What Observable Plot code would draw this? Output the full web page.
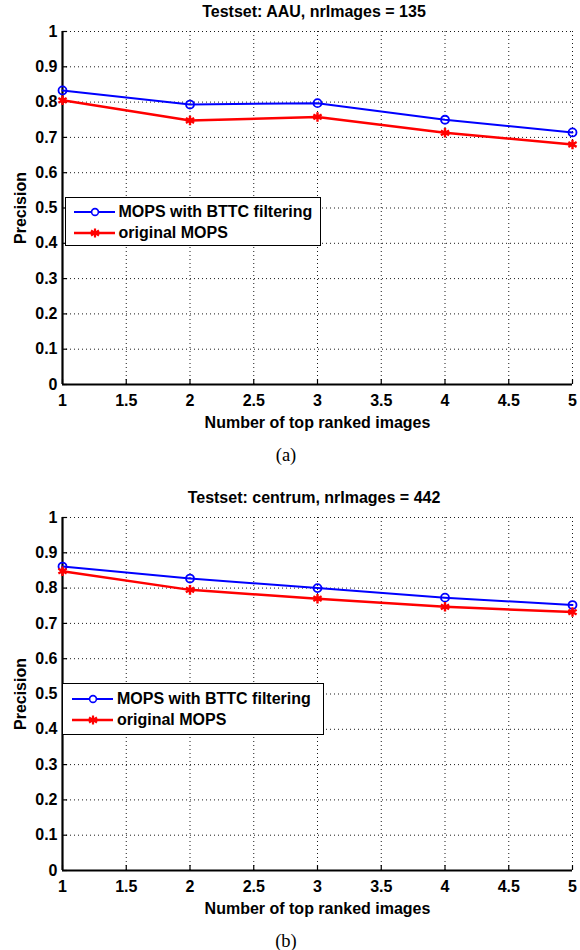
<!DOCTYPE html>
<html><head><meta charset="utf-8">
<script src="https://cdn.jsdelivr.net/npm/d3@7"></script>
<script src="https://cdn.jsdelivr.net/npm/@observablehq/plot@0.6"></script>
<style>
body{margin:0;background:#fff;width:580px;height:950px;position:relative;overflow:hidden;font-family:"Liberation Sans",Arial,sans-serif;}
.abs{position:absolute;}
.title{font-weight:bold;font-size:16px;line-height:16px;text-align:center;width:510px;left:59px;white-space:nowrap;}
.cap{font-family:"Liberation Serif","Times New Roman",serif;font-size:18.5px;line-height:18px;text-align:center;width:572px;left:0;}
.legend{background:#fff;border:1.5px solid #000;box-sizing:border-box;}
.row{display:flex;align-items:center;height:21px;font-weight:bold;font-size:16px;white-space:nowrap;}
.row svg{margin-right:4px;flex:none;}
</style>
</head><body>
<div id="root"></div>
<script>
const ranks = [1, 2, 3, 4, 5];
const xTicks = [1, 1.5, 2, 2.5, 3, 3.5, 4, 4.5, 5];
const yTicks = [0, 0.1, 0.2, 0.3, 0.4, 0.5, 0.6, 0.7, 0.8, 0.9, 1];
const xTickLabels = ["1", "1.5", "2", "2.5", "3", "3.5", "4", "4.5", "5"];
const yTickLabels = ["0", "0.1", "0.2", "0.3", "0.4", "0.5", "0.6", "0.7", "0.8", "0.9", "1"];
const seriesNames = ["MOPS with BTTC filtering", "original MOPS"];

const aauBttc = [0.833, 0.793, 0.797, 0.750, 0.714];
const aauOrig = [0.805, 0.748, 0.758, 0.713, 0.680];
const centrumBttc = [0.861, 0.827, 0.800, 0.773, 0.752];
const centrumOrig = [0.848, 0.795, 0.770, 0.747, 0.732];

const titles = ["Testset: AAU, nrImages = 135", "Testset: centrum, nrImages = 442"];
const captions = ["(a)", "(b)"];
const xLabel = "Number of top ranked images";
const yLabel = "Precision";

const BLUE = "#0000ff", RED = "#ff0000";
const root = document.getElementById("root");

function table(vals) { return ranks.map((k, i) => ({k, v: vals[i]})); }

function chart(top, bttc, orig, title, caption, lg) {
  const b = table(bttc), o = table(orig);
  const svg = Plot.plot({
    width: 580, height: 440,
    marginTop: 31, marginBottom: 56, marginLeft: 62, marginRight: 8,
    x: {domain: [1, 5]},
    y: {domain: [0, 1]},
    style: {fontFamily: "'Liberation Sans', Arial, sans-serif", fontWeight: "bold", fontSize: "16px", color: "#000", background: "transparent"},
    marks: [
      Plot.gridX(xTicks, {stroke: "#000", strokeOpacity: 0.9, strokeDasharray: "1,3", strokeWidth: 1}),
      Plot.gridY(yTicks, {stroke: "#000", strokeOpacity: 0.9, strokeDasharray: "1,3", strokeWidth: 1}),
      Plot.axisX(xTicks, {tickSize: 0, tickPadding: 10, tickFormat: (d, i) => xTickLabels[i], label: xLabel, labelAnchor: "center", labelArrow: "none", labelOffset: 43}),
      Plot.axisY(yTicks, {tickSize: 0, tickPadding: 5, tickFormat: (d, i) => yTickLabels[i], label: yLabel, labelAnchor: "center", labelArrow: "none", labelOffset: 48}),
      Plot.ruleX(xTicks, {y1: 0, y2: 0.014, stroke: "#000", strokeWidth: 1.2}),
      Plot.ruleY(yTicks, {x1: 1, x2: 1.04, stroke: "#000", strokeWidth: 1.2}),
      Plot.ruleY([0], {stroke: "#000", strokeWidth: 2.2}),
      Plot.ruleX([1], {stroke: "#000", strokeWidth: 2.2}),
      Plot.line(b, {x: "k", y: "v", stroke: BLUE, strokeWidth: 2}),
      Plot.line(o, {x: "k", y: "v", stroke: RED, strokeWidth: 2.5}),
      Plot.dot(b, {x: "k", y: "v", r: 4, stroke: BLUE, strokeWidth: 1.8, fill: "none"}),
      Plot.dot(o, {x: "k", y: "v", r: 4.5, symbol: "asterisk", stroke: RED, strokeWidth: 2.4})
    ]
  });
  svg.style.position = "absolute";
  svg.style.left = "0px";
  svg.style.top = top + "px";
  root.appendChild(svg);

  const t = document.createElement("div");
  t.className = "abs title"; t.style.top = (top + 4) + "px"; t.textContent = title;
  root.appendChild(t);

  const box = document.createElement("div");
  box.className = "abs legend";
  box.style.left = lg.left + "px"; box.style.top = lg.top + "px";
  box.style.width = lg.w + "px"; box.style.height = lg.h + "px";
  box.style.padding = lg.pad;
  const sym = [
    `<svg width="41" height="12"><line x1="0" y1="6" x2="41" y2="6" stroke="${BLUE}" stroke-width="2"/><circle cx="21" cy="6" r="3.4" fill="#fff" stroke="${BLUE}" stroke-width="1.6"/></svg>`,
    `<svg width="41" height="12"><line x1="0" y1="6" x2="41" y2="6" stroke="${RED}" stroke-width="2.5"/><g stroke="${RED}" stroke-width="2.2"><line x1="21" y1="1.5" x2="21" y2="10.5"/><line x1="17" y1="3.5" x2="25" y2="8.5"/><line x1="17" y1="8.5" x2="25" y2="3.5"/></g></svg>`
  ];
  box.innerHTML = seriesNames.map((n, i) => `<div class="row">${sym[i]}<span>${n}</span></div>`).join("");
  root.appendChild(box);

  const c = document.createElement("div");
  c.className = "abs cap"; c.style.top = (top + 446) + "px"; c.textContent = caption;
  root.appendChild(c);
}

chart(0, aauBttc, aauOrig, titles[0], captions[0], {left: 65, top: 197, w: 256, h: 49, pad: "3px 0 0 7.5px"});
chart(486, centrumBttc, centrumOrig, titles[1], captions[1], {left: 62, top: 683, w: 262, h: 52, pad: "4px 0 0 9px"});
</script>
</body></html>
